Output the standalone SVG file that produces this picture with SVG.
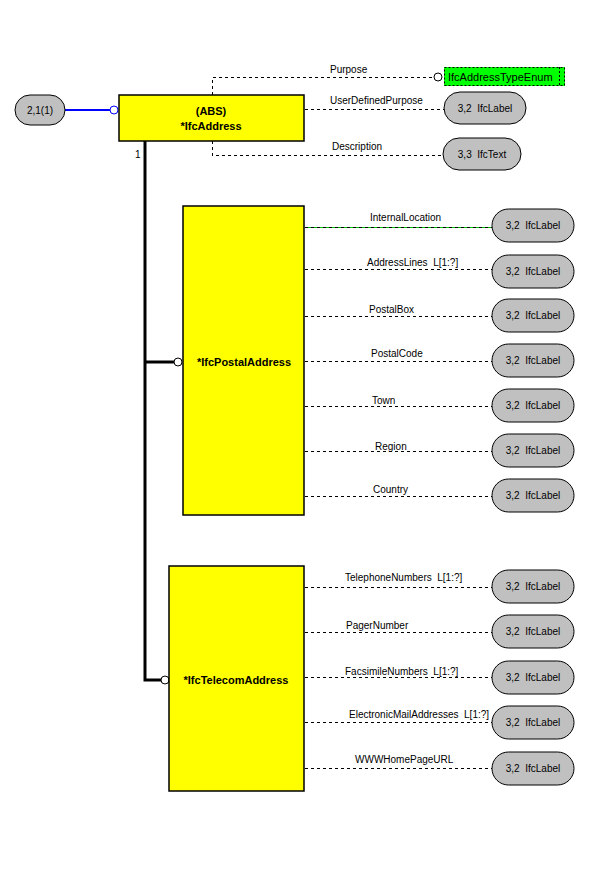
<svg xmlns="http://www.w3.org/2000/svg" width="600" height="888" viewBox="0 0 600 888">
<style>
.bg{fill:#fff}
.ent{fill:#ffff00;stroke:#000;stroke-width:1.5}
.oval{fill:#c0c0c0;stroke:#000;stroke-width:1}
.dash{fill:none;stroke:#000;stroke-width:1;stroke-dasharray:3,3;shape-rendering:crispEdges}
.thick{fill:none;stroke:#000;stroke-width:3}
.circ{fill:#fff;stroke:#000;stroke-width:1}
.t{font-family:"Liberation Sans",Arial,sans-serif;font-size:10px;fill:#000}
.tm{font-family:"Liberation Sans",Arial,sans-serif;font-size:10px;fill:#000;text-anchor:middle}
.tb{font-family:"Liberation Sans",Arial,sans-serif;font-size:11px;font-weight:bold;fill:#000;text-anchor:middle}
</style>
<rect class="bg" x="0" y="0" width="600" height="888"/>
<g id="connectors">
  <line x1="65" y1="110" x2="110" y2="110" stroke="#0000ff" stroke-width="2"/>
  <circle cx="114" cy="110" r="4" fill="#fff" stroke="#0000ff" stroke-width="1"/>
  <polyline class="dash" points="212.5,95 212.5,77.5 434,77.5"/>
  <polyline class="dash" points="212.5,141 212.5,155.5 443,155.5"/>
  <line class="dash" x1="305" y1="109.5" x2="444" y2="109.5"/>
  <circle class="circ" cx="438" cy="77" r="4"/>
  <polyline class="thick" points="145,141 145,680 162,680"/>
  <line class="thick" x1="145" y1="362" x2="175" y2="362"/>
  <circle class="circ" cx="178" cy="362" r="4"/>
  <circle class="circ" cx="165" cy="680" r="4"/>
  <line x1="305" y1="227.5" x2="492" y2="227.5" stroke="#00c000" stroke-width="1" shape-rendering="crispEdges"/>
  <line class="dash" x1="305" y1="227.5" x2="492" y2="227.5"/>
  <line class="dash" x1="305" y1="269.5" x2="492" y2="269.5"/>
  <line class="dash" x1="305" y1="316.5" x2="492" y2="316.5"/>
  <line class="dash" x1="305" y1="361.5" x2="492" y2="361.5"/>
  <line class="dash" x1="305" y1="406.5" x2="492" y2="406.5"/>
  <line class="dash" x1="305" y1="451.5" x2="492" y2="451.5"/>
  <line class="dash" x1="305" y1="496.5" x2="492" y2="496.5"/>
  <line class="dash" x1="305" y1="587.5" x2="492" y2="587.5"/>
  <line class="dash" x1="305" y1="632.5" x2="492" y2="632.5"/>
  <line class="dash" x1="305" y1="677.5" x2="492" y2="677.5"/>
  <line class="dash" x1="305" y1="722.5" x2="492" y2="722.5"/>
  <line class="dash" x1="305" y1="768.5" x2="492" y2="768.5"/>
  <text class="t" x="330" y="73">Purpose</text>
  <text class="t" x="330" y="104">UserDefinedPurpose</text>
  <text class="t" x="332" y="150">Description</text>
  <text class="t" x="135" y="158">1</text>
  <text class="t" x="370" y="221">InternalLocation</text>
  <text class="t" x="367" y="266" xml:space="preserve">AddressLines  L[1:?]</text>
  <text class="t" x="369" y="313">PostalBox</text>
  <text class="t" x="371" y="357">PostalCode</text>
  <text class="t" x="372" y="404">Town</text>
  <text class="t" x="375" y="450">Region</text>
  <text class="t" x="373" y="493">Country</text>
  <text class="t" x="345" y="581" xml:space="preserve">TelephoneNumbers  L[1:?]</text>
  <text class="t" x="346" y="629">PagerNumber</text>
  <text class="t" x="345" y="675" xml:space="preserve">FacsimileNumbers  L[1:?]</text>
  <text class="t" x="349" y="718" xml:space="preserve">ElectronicMailAddresses  L[1:?]</text>
  <text class="t" x="355" y="763">WWWHomePageURL</text>
</g>
<g id="n_ref">
  <rect class="oval" x="15" y="95" width="50" height="30" rx="15" ry="15"/>
  <text class="tm" x="40" y="114">2,1(1)</text>
</g>
<g id="n_IfcAddress">
  <rect class="ent" x="119" y="95" width="185" height="46"/>
  <text class="tb" x="211" y="115">(ABS)</text>
  <text class="tb" x="211" y="130">*IfcAddress</text>
</g>
<g id="n_IfcAddressTypeEnum">
  <rect x="444" y="67" width="121" height="19" fill="#00ff00"/>
  <rect x="444.5" y="67.5" width="120" height="18" fill="none" stroke="#000" stroke-width="1" stroke-dasharray="2,2"/>
  <line x1="559.5" y1="67" x2="559.5" y2="86" stroke="#000" stroke-width="1" stroke-dasharray="2,2"/>
  <text class="t" x="448" y="81" style="font-size:11px">IfcAddressTypeEnum</text>
</g>
<g id="n_udp">
  <rect class="oval" x="444" y="92" width="82" height="32" rx="16" ry="16"/>
  <text class="tm" x="485" y="112" xml:space="preserve">3,2  IfcLabel</text>
</g>
<g id="n_desc">
  <rect class="oval" x="443" y="138" width="78" height="32" rx="16" ry="16"/>
  <text class="tm" x="482" y="158" xml:space="preserve">3,3  IfcText</text>
</g>
<g id="n_IfcPostalAddress">
  <rect class="ent" x="183" y="206" width="121" height="309"/>
  <text class="tb" x="244" y="366">*IfcPostalAddress</text>
</g>
<g id="n_IfcTelecomAddress">
  <rect class="ent" x="169" y="566" width="135" height="225"/>
  <text class="tb" x="236" y="684">*IfcTelecomAddress</text>
</g>
<g id="n_p1"><rect class="oval" x="492" y="209" width="82" height="33" rx="16.5"/><text class="tm" x="533" y="229" xml:space="preserve">3,2  IfcLabel</text></g>
<g id="n_p2"><rect class="oval" x="492" y="255" width="82" height="33" rx="16.5"/><text class="tm" x="533" y="275" xml:space="preserve">3,2  IfcLabel</text></g>
<g id="n_p3"><rect class="oval" x="492" y="299" width="82" height="33" rx="16.5"/><text class="tm" x="533" y="319" xml:space="preserve">3,2  IfcLabel</text></g>
<g id="n_p4"><rect class="oval" x="492" y="344" width="82" height="33" rx="16.5"/><text class="tm" x="533" y="364" xml:space="preserve">3,2  IfcLabel</text></g>
<g id="n_p5"><rect class="oval" x="492" y="389" width="82" height="33" rx="16.5"/><text class="tm" x="533" y="409" xml:space="preserve">3,2  IfcLabel</text></g>
<g id="n_p6"><rect class="oval" x="492" y="434" width="82" height="33" rx="16.5"/><text class="tm" x="533" y="454" xml:space="preserve">3,2  IfcLabel</text></g>
<g id="n_p7"><rect class="oval" x="492" y="479" width="82" height="33" rx="16.5"/><text class="tm" x="533" y="499" xml:space="preserve">3,2  IfcLabel</text></g>
<g id="n_t1"><rect class="oval" x="492" y="570" width="82" height="33" rx="16.5"/><text class="tm" x="533" y="590" xml:space="preserve">3,2  IfcLabel</text></g>
<g id="n_t2"><rect class="oval" x="492" y="615" width="82" height="33" rx="16.5"/><text class="tm" x="533" y="635" xml:space="preserve">3,2  IfcLabel</text></g>
<g id="n_t3"><rect class="oval" x="492" y="661" width="82" height="33" rx="16.5"/><text class="tm" x="533" y="681" xml:space="preserve">3,2  IfcLabel</text></g>
<g id="n_t4"><rect class="oval" x="492" y="706" width="82" height="33" rx="16.5"/><text class="tm" x="533" y="726" xml:space="preserve">3,2  IfcLabel</text></g>
<g id="n_t5"><rect class="oval" x="492" y="752" width="82" height="33" rx="16.5"/><text class="tm" x="533" y="772" xml:space="preserve">3,2  IfcLabel</text></g>
</svg>
